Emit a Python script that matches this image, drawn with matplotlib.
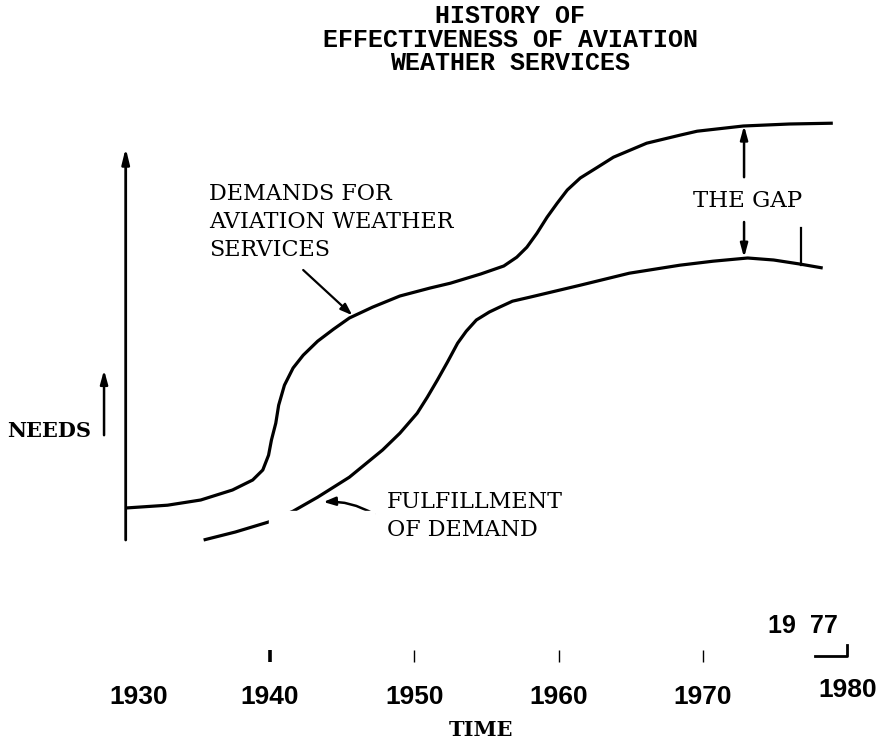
import matplotlib.pyplot as plt
from matplotlib.patches import Rectangle

# demand curve (year, need level in arbitrary units)
demand_year = [1930.0, 1932.9, 1935.2, 1937.4, 1938.8, 1939.5, 1939.9, 1940.1,
               1940.4, 1940.6, 1941.0, 1941.6, 1942.3, 1943.3, 1944.4, 1945.5,
               1947.1, 1949.0, 1951.1, 1952.5, 1954.6, 1956.2, 1957.1, 1957.8,
               1958.5, 1959.2, 1959.9, 1960.6, 1961.5, 1962.7, 1963.8, 1966.1,
               1968.4, 1969.6, 1972.8, 1976.0, 1979.0]
demand_need = [8.0, 8.7, 10.0, 12.5, 15.0, 17.5, 21.2, 25.0,
               29.2, 33.7, 38.7, 43.0, 46.2, 49.7, 52.7, 55.5,
               58.2, 61.0, 63.0, 64.2, 66.5, 68.5, 70.7, 73.2,
               76.7, 80.7, 84.2, 87.5, 90.5, 93.2, 95.7, 99.2,
               101.2, 102.2, 103.5, 104.0, 104.2]

# fulfillment of demand
fulfil_year = [1935.4, 1937.6, 1939.9, 1941.6, 1943.3, 1945.5, 1947.8, 1949.0,
               1950.2, 1950.9, 1951.6, 1952.3, 1953.0, 1953.6, 1954.3, 1955.2,
               1955.9, 1956.8, 1958.0, 1961.5, 1964.9, 1968.4, 1970.7, 1973.1,
               1974.9, 1976.7, 1978.3]
fulfil_need = [0.0, 2.0, 4.5, 7.2, 10.7, 15.7, 22.5, 26.7,
               31.7, 35.7, 40.0, 44.5, 49.2, 52.2, 55.0, 57.0,
               58.2, 59.7, 60.7, 63.7, 66.7, 68.7, 69.7, 70.5,
               70.0, 69.0, 68.0]

decades = [1930, 1940, 1950, 1960, 1970]
decade_labels = ['1930', '1940', '1950', '1960', '1970']

fig = plt.figure(figsize=(8.8, 7.45), dpi=100)
ax = fig.add_axes([0, 0, 1, 1])
ax.set_xlim(1921.29, 1982.27)
ax.set_ylim(-51.25, 135)
ax.axis('off')

mono = 'Liberation Mono'
serif = 'DejaVu Serif'
sans = 'Liberation Sans'

# title
for txt, y in [('HISTORY OF', 16), ('EFFECTIVENESS OF AVIATION', 40),
               ('WEATHER SERVICES', 63)]:
    fig.text(510 / 880, 1 - y / 745, txt, ha='center', va='center',
             family=mono, weight='bold', fontsize=18)

# curves
ax.plot(demand_year, demand_need, color='black', lw=2.3, zorder=2,
        solid_capstyle='butt', solid_joinstyle='round')
ax.plot(fulfil_year, fulfil_need, color='black', lw=2.3, zorder=2,
        solid_capstyle='butt', solid_joinstyle='round')

# vertical axis with arrow
ax.annotate('', xy=(1930, 98), xytext=(1930, 0),
            arrowprops=dict(arrowstyle='-|>,head_length=0.9,head_width=0.22',
                            color='black', lw=2, shrinkA=0, shrinkB=0))

# NEEDS
ax.annotate('', xy=(1928.5, 42.5), xytext=(1928.5, 26.2),
            arrowprops=dict(arrowstyle='-|>,head_length=0.8,head_width=0.22',
                            color='black', lw=1.8, shrinkA=0, shrinkB=0))
ax.text(1921.8, 27.2, 'NEEDS', family=serif, weight='bold', fontsize=15,
        ha='left', va='center')

# labels
ax.text(1935.8, 79.5, 'DEMANDS FOR\nAVIATION WEATHER\nSERVICES', family=serif,
        fontsize=16, ha='left', va='center', linespacing=1.36)
ax.annotate('', xy=(1945.7, 56.2), xytext=(1942.3, 67.5),
            arrowprops=dict(arrowstyle='-|>,head_length=0.7,head_width=0.25',
                            color='black', lw=1.6, shrinkA=0, shrinkB=0))

ax.text(1948.1, 6.0, 'FULFILLMENT\nOF DEMAND', family=serif, fontsize=16,
        ha='left', va='center', linespacing=1.36)
ax.annotate('', xy=(1943.7, 9.5), xytext=(1947.2, 6.5),
            arrowprops=dict(arrowstyle='-|>,head_length=0.7,head_width=0.25',
                            color='black', lw=1.8, shrinkA=0, shrinkB=0,
                            connectionstyle='arc3,rad=0.15'))

# the gap
ax.text(1969.3, 84.75, 'THE GAP', family=serif, fontsize=16.5,
        ha='left', va='center')
ax.annotate('', xy=(1972.85, 103.6), xytext=(1972.85, 90.7),
            arrowprops=dict(arrowstyle='-|>,head_length=0.8,head_width=0.22',
                            color='black', lw=1.8, shrinkA=0, shrinkB=0))
ax.annotate('', xy=(1972.85, 70.6), xytext=(1972.85, 79.5),
            arrowprops=dict(arrowstyle='-|>,head_length=0.8,head_width=0.22',
                            color='black', lw=1.8, shrinkA=0, shrinkB=0))
ax.plot([1976.8, 1976.8], [68.8, 78.0], color='black', lw=1.6)

# paste-up gap in the scan
ax.add_patch(Rectangle((1939.9, -2), 7.3, 9.3, color='white', zorder=3))

# time axis ticks and labels
ax.vlines(decades[1:], -30.5, -27.5, colors='black',
          linewidths=[2.6, 1.0, 1.0, 1.0])
for yr, lab in zip(decades, decade_labels):
    nudge = 0.9 if yr == 1930 else 0
    ax.text(yr + nudge, -39.25, lab, family=sans, weight='bold', fontsize=19,
            ha='center', va='center')
ax.text(1980, -37.5, '1980', family=sans, weight='bold', fontsize=19,
        ha='center', va='center')
ax.text(1976.9, -21.5, '19  77', family=sans, weight='bold', fontsize=18,
        ha='center', va='center')
ax.plot([1977.8, 1980, 1980], [-29, -29, -26.2], color='black', lw=2)
ax.text(1954.6, -47.5, 'TIME', family=serif, weight='bold', fontsize=15,
        ha='center', va='center')

fig.savefig('out.png', dpi=100)
